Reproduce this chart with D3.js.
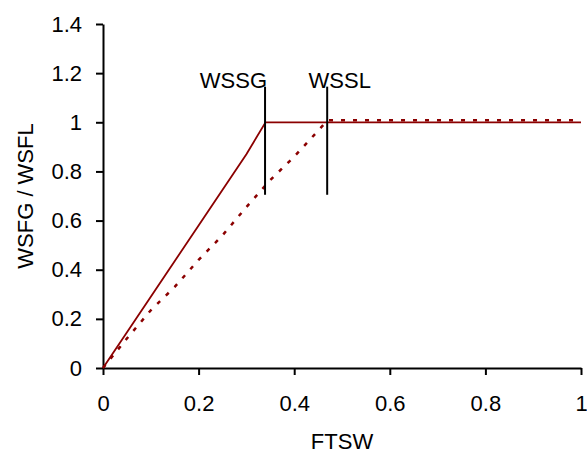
<!DOCTYPE html>
<html>
<head>
<meta charset="utf-8">
<script src="https://cdn.jsdelivr.net/npm/d3@7"></script>
<style>
  body { margin: 0; background: #fff; }
  svg text { font-family: "Liberation Sans", Arial, sans-serif; }
</style>
</head>
<body>
<div id="chart"></div>
<script>
// FTSW vs relative rate
const solidX = [0, 0.1, 0.2, 0.3, 0.34, 1];
const solidY = [0, 0.29, 0.58, 0.87, 1, 1];
const dotX = [0, 0.05, 0.1, 0.15, 0.2, 0.25, 0.3, 0.35, 0.4, 0.47, 1];
const dotY = [0, 0.12, 0.235, 0.33, 0.44, 0.54, 0.655, 0.765, 0.86, 1.008, 1.008];
const markerX = [0.339, 0.469];
const markerLabels = ["WSSG", "WSSL"];
const xTicks = [0, 0.2, 0.4, 0.6, 0.8, 1];
const yTicks = [0, 0.2, 0.4, 0.6, 0.8, 1, 1.2, 1.4];

const width = 587, height = 455;
const margin = {left: 103, right: 6, top: 24, bottom: 87};

const svg = d3.select("#chart").append("svg")
  .attr("width", width)
  .attr("height", height);

const x = d3.scaleLinear().domain([0, 1]).range([margin.left, width - margin.right]);
const y = d3.scaleLinear().domain([0, 1.4]).range([height - margin.bottom, margin.top]);

const fmt = d => d === 0 || d === 1 ? String(d) : d3.format(".1f")(d);

// Axes
const xAxis = svg.append("g")
  .attr("transform", `translate(0,${y(0)})`)
  .call(d3.axisBottom(x).tickValues(xTicks).tickFormat(fmt).tickSize(7).tickPadding(20).tickSizeOuter(0));
const yAxis = svg.append("g")
  .attr("transform", `translate(${x(0)},0)`)
  .call(d3.axisLeft(y).tickValues(yTicks).tickFormat(fmt).tickSize(7).tickPadding(14).tickSizeOuter(0));

[xAxis, yAxis].forEach(g => {
  g.select(".domain").attr("stroke", "#000").attr("stroke-width", 2);
  g.selectAll(".tick line").attr("stroke", "#000").attr("stroke-width", 2);
  g.selectAll(".tick text").attr("fill", "#000").style("font-size", "22px")
    .style("font-family", "'Liberation Sans', Arial, sans-serif");
});

// Lines
const line = d3.line().x(d => x(d[0])).y(d => y(d[1]));

svg.append("path")
  .datum(dotX.map((v, i) => [v, dotY[i]]))
  .attr("d", line)
  .attr("fill", "none")
  .attr("stroke", "#8b0000")
  .attr("stroke-width", 2.5)
  .attr("stroke-dasharray", "4,8");

svg.append("path")
  .datum(solidX.map((v, i) => [v, solidY[i]]))
  .attr("d", line)
  .attr("fill", "none")
  .attr("stroke", "#8b0000")
  .attr("stroke-width", 1.8);

// Threshold markers
svg.selectAll(".marker")
  .data(markerX)
  .join("line")
  .attr("class", "marker")
  .attr("x1", d => x(d)).attr("x2", d => x(d))
  .attr("y1", y(1.145)).attr("y2", y(0.705))
  .attr("stroke", "#000")
  .attr("stroke-width", 2);

svg.append("text")
  .attr("x", x(markerX[0]) + 2)
  .attr("y", y(1.14))
  .attr("text-anchor", "end")
  .style("font-size", "22px")
  .text(markerLabels[0]);

svg.append("text")
  .attr("x", x(0.43))
  .attr("y", y(1.14))
  .attr("text-anchor", "start")
  .style("font-size", "22px")
  .text(markerLabels[1]);

// Axis titles
svg.append("text")
  .attr("x", (x(0) + x(1)) / 2)
  .attr("y", 449)
  .attr("text-anchor", "middle")
  .style("font-size", "22px")
  .text("FTSW");

svg.append("text")
  .attr("transform", `translate(33,${(y(0) + y(1.4)) / 2}) rotate(-90)`)
  .attr("text-anchor", "middle")
  .style("font-size", "22px")
  .text("WSFG / WSFL");
</script>
</body>
</html>
